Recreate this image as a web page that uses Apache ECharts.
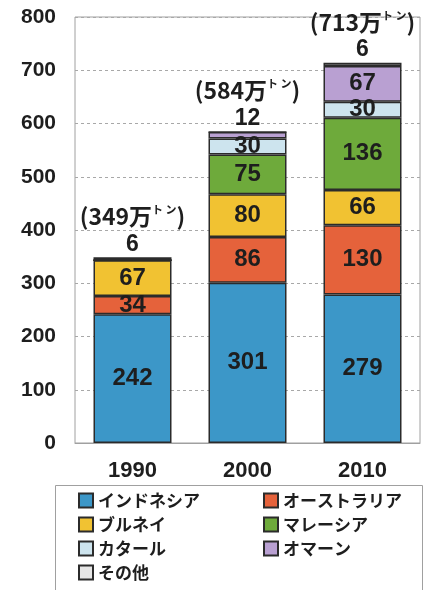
<!DOCTYPE html>
<html>
<head>
<meta charset="utf-8">
<script src="https://cdn.jsdelivr.net/npm/echarts@6/dist/echarts.min.js"></script>
<style>
  html, body { margin: 0; padding: 0; background: #fff; }
  #chart { width: 448px; height: 590px; }
</style>
</head>
<body>
<div id="chart"></div>
<script>
// data (万トン)
const years = ['1990', '2000', '2010'];
const indonesia = [242, 301, 279];
const australia = [34, 86, 130];
const brunei = [67, 80, 66];
const malaysia = [0, 75, 136];
const qatar = [0, 30, 30];
const oman = [0, 12, 67];
const others = [6, 0, 6];
const totals = [349, 584, 713];
const topNumbers = [6, 12, 6];   // small values printed above each bar

const FONT = '"Liberation Sans", "Noto Sans CJK JP", sans-serif';
const JP = '"Noto Sans CJK JP", "Liberation Sans", sans-serif';

const seriesDefs = [
  { name: 'インドネシア', data: indonesia, color: '#3c97c8' },
  { name: 'オーストラリア', data: australia, color: '#e5623b' },
  { name: 'ブルネイ', data: brunei, color: '#f1c232' },
  { name: 'マレーシア', data: malaysia, color: '#6eaa3b' },
  { name: 'カタール', data: qatar, color: '#cde4ee' },
  { name: 'オマーン', data: oman, color: '#b9a0d2' },
  { name: 'その他', data: others, color: '#e6e6e6' }
];

const series = seriesDefs.map(function (d, i) {
  const s = {
    name: d.name,
    type: 'bar',
    stack: 'lng',
    barWidth: 78,
    data: d.data,
    itemStyle: { color: d.color, borderColor: '#2b2b2b', borderWidth: 1.5 },
    label: {
      show: true,
      position: 'inside',
      color: '#1e1e1e',
      fontFamily: FONT,
      fontWeight: 'bold',
      fontSize: 24,
      formatter: function (p) { return p.value >= 20 ? String(p.value) : ''; }
    }
  };
  // top-most series carries the small value and the total
  if (i === seriesDefs.length - 1) {
    s.label = {
      show: true,
      position: 'top',
      distance: 1,
      fontFamily: FONT,
      formatter: function (p) {
        return '{t|(' + totals[p.dataIndex] + '万}{s|ト ン}{t|)}\n{n|' + topNumbers[p.dataIndex] + '}';
      },
      rich: {
        t: { fontSize: 23, fontWeight: 'bold', color: '#1e1e1e', fontFamily: JP, lineHeight: 32 },
        s: { fontSize: 11, fontWeight: 'bold', color: '#1e1e1e', fontFamily: JP, padding: [0, 0, 12, 0] },
        n: { fontSize: 23, fontWeight: 'bold', color: '#1e1e1e', fontFamily: FONT, lineHeight: 24 }
      }
    };
  }
  return s;
});

const chart = echarts.init(document.getElementById('chart'));
chart.setOption({
  animation: false,
  backgroundColor: '#fff',
  grid: {
    left: 75, right: 28, top: 17, bottom: 147,
    show: true, borderColor: '#a0a0a0', borderWidth: 1
  },
  xAxis: {
    type: 'category',
    data: years,
    axisLine: { lineStyle: { color: '#a0a0a0' } },
    axisTick: { inside: true, length: 5, lineStyle: { color: '#888' } },
    axisLabel: {
      margin: 17, color: '#1e1e1e', fontFamily: FONT,
      fontWeight: 'bold', fontSize: 22
    }
  },
  yAxis: {
    type: 'value',
    min: 0, max: 800, interval: 100,
    axisLine: { show: false },
    axisTick: { show: false },
    splitLine: { lineStyle: { color: '#a8a8a8', type: [3, 3], width: 1 } },
    axisLabel: {
      margin: 19, color: '#1e1e1e', fontFamily: FONT,
      fontWeight: 'bold', fontSize: 21
    }
  },
  legend: {
    left: 53, top: 487,
    width: 380,
    padding: [5, 0, 5, 25],
    itemWidth: 14, itemHeight: 14,
    itemGap: 7,
    icon: 'rect',
    selectedMode: false,
    textStyle: {
      fontFamily: JP, fontWeight: 'bold', fontSize: 17,
      color: '#1e1e1e', width: 158, lineHeight: 17
    },
    data: seriesDefs.map(function (d) { return d.name; })
  },
  graphic: [{
    type: 'rect',
    left: 53, top: 483,
    shape: { width: 367, height: 120 },
    style: { fill: 'none', stroke: '#a0a0a0', lineWidth: 1 },
    z: 0
  }],
  series: series
});
</script>
</body>
</html>
